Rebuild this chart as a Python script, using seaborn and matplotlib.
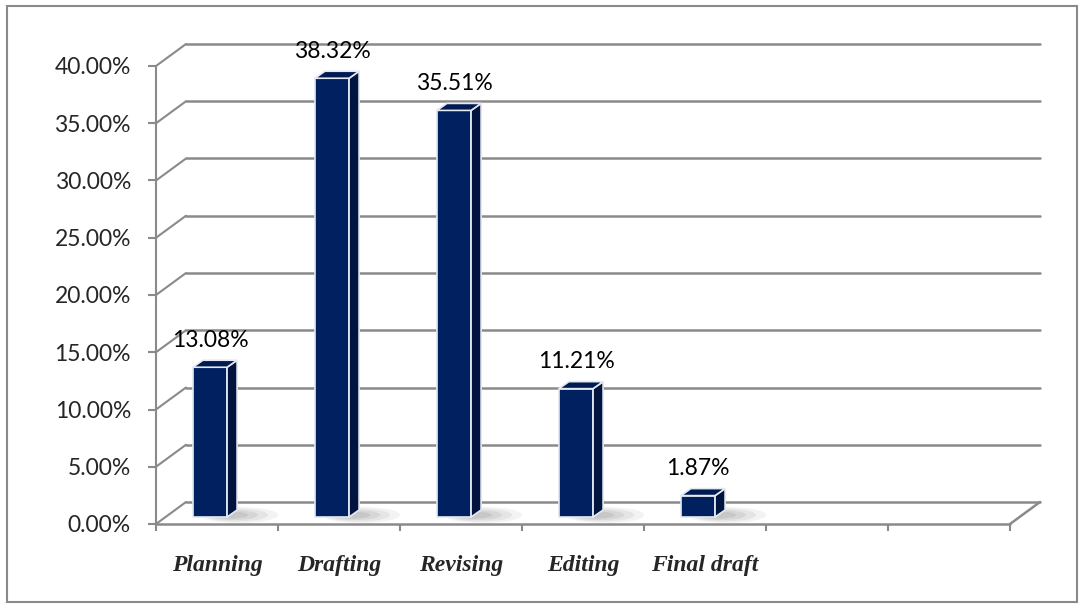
import numpy as np
import seaborn as sns
import matplotlib.pyplot as plt
import matplotlib.transforms as mtransforms
from matplotlib.patches import Polygon, Ellipse, Rectangle
from matplotlib.lines import Line2D

# === Dados ===
categorias = ['Planning', 'Drafting', 'Revising', 'Editing', 'Final draft']
valores = [13.08, 38.32, 35.51, 11.21, 1.87]
n_slots = 7
yticks = [0, 5, 10, 15, 20, 25, 30, 35, 40]

cor_frente = '#002060'
cor_lado = '#00143f'
cor_topo = '#001a52'
cor_grade = '#8a8a8a'

# deslocamentos 3D (pixels)
prof_dx, prof_dy = 30, 22      # parede do fundo
bar_dx, bar_dy = -7, 7         # face frontal da barra
lado_dx, lado_dy = 10, 7       # profundidade da barra

sns.set_style('white')
plt.rcParams['font.family'] = ['Lato', 'DejaVu Sans']

fig = plt.figure(figsize=(10.82, 6.08), dpi=100)
ax = fig.add_axes([156 / 1082, 84 / 608, (1010 - 156) / 1082, 458 / 608])

sns.barplot(x=categorias, y=valores, order=categorias, color=cor_frente,
            width=0.28, saturation=1, ax=ax, zorder=5,
            edgecolor='#e4e9f2', linewidth=1.2)

ax.set_xlim(-0.5, n_slots - 0.5)
ax.set_ylim(0, 40)
ax.set_xlabel('')
ax.set_ylabel('')
for s in ax.spines.values():
    s.set_visible(False)

# ticks
ax.set_yticks(yticks)
ax.set_yticklabels([f'{v:.2f}%' for v in yticks], fontsize=16.5)
ax.tick_params(axis='y', length=6, width=1.5, color=cor_grade, pad=12, left=True)
ax.set_xticks(range(len(categorias)))
ax.set_xticklabels(categorias, fontsize=17, family='Liberation Serif',
                   fontweight='bold', fontstyle='italic')
ax.tick_params(axis='x', which='major', length=0, pad=22)
ax.set_xticks(np.arange(-0.5, n_slots, 1), minor=True)
ax.tick_params(axis='x', which='minor', length=5, width=1.5, color=cor_grade,
               bottom=True, direction='out')

fig.canvas.draw()
T = ax.transData
ident = mtransforms.IdentityTransform()

def px(x, y):
    return T.transform((x, y))

# parede do fundo e lateral
x0, x1 = -0.5, n_slots - 0.5
for v in yticks:
    a = px(x0, v) + [prof_dx, prof_dy]
    b = px(x1, v) + [prof_dx, prof_dy]
    c = px(x0, v)
    ax.add_line(Line2D([a[0], b[0]], [a[1], b[1]], transform=ident, color=cor_grade,
                       lw=1.8, clip_on=False, zorder=1))
    ax.add_line(Line2D([c[0], a[0]], [c[1], a[1]], transform=ident, color=cor_grade,
                       lw=1.5, clip_on=False, zorder=1))

# eixo frontal e piso
p0, p1 = px(x0, 0), px(x1, 0)
q = px(x0, 40)
ax.add_line(Line2D([p0[0], p1[0]], [p0[1], p1[1]], transform=ident, color=cor_grade,
                   lw=1.8, clip_on=False, zorder=2))
ax.add_line(Line2D([p0[0], q[0]], [p0[1], q[1]], transform=ident, color=cor_grade,
                   lw=1.5, clip_on=False, zorder=2))
ax.add_line(Line2D([p1[0], p1[0] + prof_dx], [p1[1], p1[1] + prof_dy], transform=ident,
                   color=cor_grade, lw=1.8, clip_on=False, zorder=2))

# barras 3D
front_tr = T + mtransforms.Affine2D().translate(bar_dx, bar_dy)
for p, v in zip(ax.patches, valores):
    p.set_transform(front_tr)
    xl, w = p.get_x(), p.get_width()
    bl = px(xl, 0) + [bar_dx, bar_dy]
    br = px(xl + w, 0) + [bar_dx, bar_dy]
    tl = px(xl, v) + [bar_dx, bar_dy]
    tr = px(xl + w, v) + [bar_dx, bar_dy]
    d = np.array([lado_dx, lado_dy])
    # sombra
    for k, a in enumerate([0.08, 0.10, 0.12, 0.14]):
        e = Ellipse((br[0] + 12 - 3 * k, bl[1] + 2), 78 - 14 * k, 16 - 3 * k,
                    transform=ident, color='#6e6e6e', alpha=a, lw=0, zorder=3)
        ax.add_patch(e)
    ax.add_patch(Polygon([br, tr, tr + d, br + d], closed=True, transform=ident,
                         facecolor=cor_lado, edgecolor='#e4e9f2', lw=1.2, zorder=6,
                         clip_on=False))
    ax.add_patch(Polygon([tl, tr, tr + d, tl + d], closed=True, transform=ident,
                         facecolor=cor_topo, edgecolor='#e4e9f2', lw=1.2, zorder=6,
                         clip_on=False))
    cx = (tl[0] + tr[0]) / 2
    ax.text(cx, tl[1] + 27, f'{v:.2f}%', transform=ident, ha='center', va='center',
            fontsize=16.5, color='black', zorder=7, clip_on=False)

# borda externa
fig.patches.append(Rectangle((7 / 1082, 6 / 608), 1070 / 1082, 596 / 608,
                             transform=fig.transFigure, fill=False,
                             edgecolor='#8a8a8a', lw=1.5))

fig.savefig('out.png', dpi=100)
